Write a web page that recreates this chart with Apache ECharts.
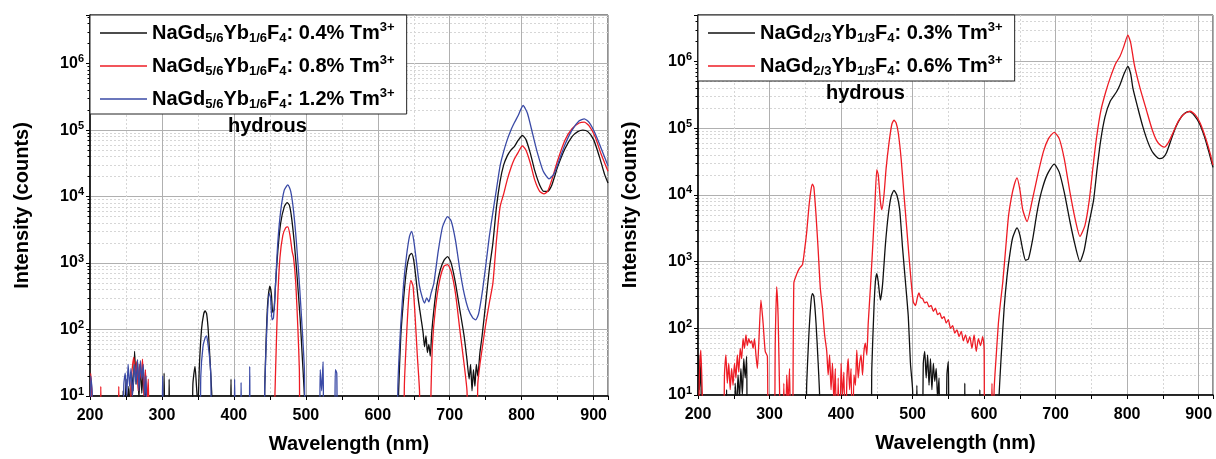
<!DOCTYPE html>
<html><head><meta charset="utf-8">
<script src="https://cdn.jsdelivr.net/npm/echarts@6/dist/echarts.min.js"></script>
<style>html,body{margin:0;padding:0;background:#fff}#c{width:1216px;height:459px}</style>
</head><body><div id="c"></div>
<script>
// ---------- DATA (wavelength nm, intensity counts) ----------
const xTicks = [200, 300, 400, 500, 600, 700, 800, 900];
const yTickExps = [1, 2, 3, 4, 5, 6];

const leftNames = ['L04', 'L08', 'L12'];
const leftLabels = [
  'NaGd{s|5/6}Yb{s|1/6}F{s|4}: 0.4% Tm{p|3+}',
  'NaGd{s|5/6}Yb{s|1/6}F{s|4}: 0.8% Tm{p|3+}',
  'NaGd{s|5/6}Yb{s|1/6}F{s|4}: 1.2% Tm{p|3+}'
];
const rightNames = ['R03', 'R06'];
const rightLabels = [
  'NaGd{s|2/3}Yb{s|1/3}F{s|4}: 0.3% Tm{p|3+}',
  'NaGd{s|2/3}Yb{s|1/3}F{s|4}: 0.6% Tm{p|3+}'
];
const annotation = 'hydrous';

const left04 = [[200,1],[202,6],[204,1],[244,1],[246,12],[248,3],[250,18],[252,7],[254,14],[256,5],[258,22],[260,12],[262,47],[264,15],[266,35],[268,9],[270,30],[272,11],[274,26],[276,7],[278,14],[280,1],[301,1],[303,22],[305,1],[309,1],[310,18],[312,1],[341,1],[343,15],[346,28],[348,14],[350,7],[352,28],[355,100],[358,170],[360,190],[362,175],[364,110],[366,50],[368,20],[370,7],[372,1],[394,1],[396,18],[398,1],[440,1],[443,15],[445,80],[447,250],[450,450],[452,350],[454,180],[456,200],[458,500],[461,1500],[465,4000],[470,7000],[474,8100],[477,7500],[480,5000],[484,2000],[488,600],[492,150],[495,40],[498,10],[500,1],[626,1],[629,12],[632,80],[636,300],[640,800],[644,1300],[647,1400],[650,1100],[653,600],[656,300],[660,150],[663,90],[665,55],[667,80],[669,45],[671,60],[673,40],[675,90],[678,200],[682,450],[687,800],[692,1100],[697,1250],[702,1000],[708,500],[714,200],[720,80],[724,35],[727,18],[729,30],[731,12],[733,25],[735,14],[737,30],[739,20],[742,45],[745,80],[750,250],[755,800],[760,2000],[765,7000],[770,17000],[775,30000],[780,41000],[785,50000],[790,57000],[795,70000],[801,83000],[806,72000],[812,45000],[818,25000],[825,15000],[831,12000],[836,12000],[842,15000],[850,28000],[860,52000],[870,80000],[878,95000],[885,100000],[892,95000],[900,72000],[908,40000],[915,22000],[920,16000]];

const left08 = [[200,1],[201,22],[203,8],[205,1],[214,1],[215,14],[217,1],[238,1],[240,14],[242,1],[255,1],[257,14],[259,28],[261,38],[263,20],[265,33],[267,12],[269,30],[271,18],[273,36],[275,10],[277,25],[279,8],[281,18],[284,1],[455,1],[457,10],[459,60],[461,300],[464,1200],[468,2600],[472,3400],[475,3500],[478,2600],[481,1500],[483,1200],[486,500],[489,100],[491,25],[493,1],[635,1],[637,15],[640,80],[643,300],[646,550],[649,450],[652,150],[655,40],[658,12],[660,1],[672,1],[674,12],[676,60],[680,200],[686,550],[692,900],[697,950],[702,750],[708,350],[714,100],[720,30],[724,12],[727,1],[737,1],[739,15],[742,30],[746,60],[750,120],[755,250],[760,500],[765,2200],[770,7000],[775,11000],[780,18000],[785,27000],[790,37000],[795,46000],[801,58000],[806,50000],[812,32000],[818,18000],[825,12000],[831,11000],[836,12000],[842,18000],[850,35000],[860,70000],[870,105000],[880,128000],[887,132000],[894,115000],[902,80000],[910,45000],[920,24000]];

const left12 = [[200,1],[201,20],[203,12],[205,1],[245,1],[247,15],[249,22],[251,10],[253,30],[255,14],[257,26],[259,10],[262,30],[264,15],[266,35],[268,12],[270,34],[272,18],[274,30],[276,10],[278,20],[280,1],[299,1],[301,20],[303,1],[352,1],[354,20],[357,55],[360,75],[362,80],[364,60],[366,40],[368,20],[370,1],[400,1],[401,18],[403,1],[409,1],[410,16],[412,1],[421,1],[422,28],[424,1],[441,1],[443,15],[446,120],[449,350],[451,300],[453,140],[455,150],[458,500],[461,2000],[465,6000],[470,12500],[475,15000],[479,12000],[483,6000],[487,2000],[491,500],[495,100],[498,25],[500,1],[518,1],[520,25],[522,12],[524,33],[526,1],[539,1],[541,25],[543,22],[545,1],[626,1],[628,15],[632,120],[636,500],[640,1300],[644,2500],[647,3000],[650,2200],[654,1000],[658,450],[662,300],[665,250],[668,300],[671,260],[674,350],[678,500],[684,1500],[690,3500],[697,5000],[702,4300],[708,2200],[714,800],[720,350],[726,200],[732,150],[736,140],[740,170],[745,350],[750,900],[755,2500],[760,5800],[765,13000],[770,29000],[775,48000],[780,72000],[785,100000],[790,130000],[795,165000],[802,235000],[808,180000],[815,90000],[822,45000],[830,24000],[838,18500],[845,22000],[852,35000],[860,60000],[870,100000],[880,138000],[887,148000],[894,130000],[902,90000],[910,55000],[920,29000]];

const right03 = [[200,1],[201,40],[202,12],[204,30],[206,1],[238,1],[240,12],[242,1],[250,1],[252,15],[254,6],[256,20],[258,9],[260,25],[262,10],[264,35],[266,18],[268,38],[270,1],[349,1],[352,15],[355,80],[358,250],[360,330],[362,300],[365,120],[368,30],[370,10],[372,1],[441,1],[443,25],[446,200],[448,500],[450,660],[452,500],[455,265],[458,450],[462,1800],[466,5000],[470,9500],[474,11700],[478,10000],[482,6000],[486,1600],[490,500],[494,150],[497,30],[500,12],[502,1],[504,1],[506,14],[508,1],[513,1],[515,30],[517,45],[519,18],[521,40],[523,14],[525,35],[527,12],[529,30],[531,16],[533,25],[535,9],[537,18],[539,1],[546,1],[548,20],[550,32],[552,1],[572,1],[573,15],[574,1],[593,1],[594,12],[595,1],[619,1],[621,10],[624,40],[628,200],[632,600],[636,1300],[640,2300],[646,3200],[650,2500],[654,1500],[658,1050],[662,1100],[668,2200],[674,5500],[680,11000],[688,20000],[698,29000],[705,22000],[712,11000],[720,4000],[727,1800],[734,1000],[740,1500],[746,3500],[753,8300],[758,25000],[763,66000],[769,148000],[776,250000],[785,350000],[790,450000],[795,630000],[801,850000],[805,650000],[808,400000],[815,200000],[822,105000],[829,62000],[836,43000],[845,35000],[850,36000],[855,43000],[862,70000],[868,105000],[875,145000],[881,170000],[887,178000],[894,155000],[901,118000],[908,75000],[914,45000],[920,26000]];

const right06 = [[200,1],[202,20],[204,47],[206,10],[208,1],[235,1],[237,20],[239,40],[241,15],[243,30],[245,12],[247,25],[249,14],[251,30],[253,18],[255,40],[257,22],[259,50],[261,35],[263,70],[265,50],[267,80],[269,55],[271,70],[273,60],[275,65],[277,50],[279,70],[281,40],[283,25],[285,60],[288,265],[291,120],[294,45],[297,38],[299,1],[306,1],[308,60],[310,420],[312,150],[314,12],[316,1],[318,1],[320,15],[322,1],[324,20],[326,8],[328,25],[330,1],[332,1],[334,480],[338,650],[342,800],[346,900],[349,1500],[352,2800],[355,6500],[358,12000],[360,14500],[362,13000],[365,5000],[368,1500],[371,400],[374,200],[377,80],[380,45],[382,20],[384,40],[386,12],[388,30],[390,8],[392,25],[394,1],[396,18],[398,1],[400,30],[402,10],[404,22],[406,1],[408,15],[410,35],[412,12],[414,25],[416,1],[418,20],[420,14],[422,47],[424,18],[426,30],[428,40],[430,20],[432,45],[434,60],[436,40],[438,120],[441,400],[444,1500],[447,6000],[450,24000],[452,20000],[455,8000],[457,6000],[460,10000],[463,25000],[467,60000],[471,115000],[474,132000],[477,120000],[480,85000],[484,35000],[488,10000],[492,3000],[495,1200],[498,500],[501,250],[504,220],[507,300],[509,340],[511,290],[514,280],[517,240],[520,250],[523,210],[526,220],[529,180],[532,200],[535,160],[538,170],[541,140],[544,150],[547,120],[550,135],[553,100],[556,110],[559,85],[562,95],[565,75],[568,90],[571,65],[574,80],[577,60],[580,75],[583,50],[586,80],[589,45],[592,70],[595,55],[598,75],[600,50],[601,1],[609,1],[611,15],[613,1],[614,12],[617,40],[620,120],[623,250],[626,480],[630,1500],[634,4700],[638,9000],[642,14000],[646,18000],[650,12000],[654,6000],[660,4000],[667,8000],[675,20000],[683,45000],[690,70000],[698,87000],[705,70000],[712,35000],[720,11000],[727,4500],[734,2400],[741,3500],[747,8300],[752,25000],[757,70000],[763,180000],[770,350000],[777,600000],[784,940000],[790,1200000],[795,1650000],[801,2500000],[805,1900000],[810,900000],[818,400000],[827,186000],[835,95000],[841,66000],[847,55000],[852,52000],[858,62000],[864,85000],[872,130000],[880,165000],[888,180000],[895,160000],[902,120000],[910,70000],[916,42000],[920,28000]];

// ---------- CHART ----------
const FONT = '"Liberation Sans", Arial, sans-serif';
const COLORS = { black: '#111111', red: '#ee1c25', blue: '#3a4aa6' };
const xMin = xTicks[0], xMax = 920, xStep = xTicks[1] - xTicks[0];

function xAxisCfg(gi) {
  return {
    type: 'value', gridIndex: gi, min: xMin, max: xMax, interval: xStep,
    name: 'Wavelength (nm)', nameLocation: 'middle', nameGap: 38,
    nameTextStyle: { fontFamily: FONT, fontWeight: 'bold', fontSize: 20, color: '#000' },
    axisLine: { show: true, onZero: false, lineStyle: { color: '#000', width: 1.5 } },
    axisTick: { show: true, length: 4, lineStyle: { color: '#000', width: 1 } },
    minorTick: { show: true, splitNumber: 2, length: 4, lineStyle: { color: '#000', width: 1 } },
    splitLine: { show: true, lineStyle: { color: '#b0b0b0', width: 1 } },
    minorSplitLine: { show: true, lineStyle: { color: '#d6d6d6', width: 1, type: [2, 2] } },
    axisLabel: { fontFamily: FONT, fontWeight: 'bold', fontSize: 16, color: '#000', margin: 12,
      formatter: v => (xTicks.indexOf(Math.round(v)) >= 0 ? String(Math.round(v)) : '') }
  };
}
function yAxisCfg(gi, max, gap) {
  return {
    type: 'log', logBase: 10, gridIndex: gi, min: 10, max: max,
    name: 'Intensity (counts)', nameLocation: 'middle', nameGap: gap,
    nameTextStyle: { fontFamily: FONT, fontWeight: 'bold', fontSize: 20, color: '#000' },
    axisLine: { show: true, onZero: false, lineStyle: { color: '#000', width: 1.5 } },
    axisTick: { show: true, length: 4, lineStyle: { color: '#000', width: 1 } },
    minorTick: { show: true, splitNumber: 9, length: 2.5, lineStyle: { color: '#000', width: 1 } },
    splitLine: { show: true, lineStyle: { color: '#b0b0b0', width: 1 } },
    minorSplitLine: { show: true, lineStyle: { color: '#d6d6d6', width: 1, type: [2, 2] } },
    axisLabel: {
      fontFamily: FONT, fontWeight: 'bold', fontSize: 16, color: '#000', margin: 6, lineHeight: 20,
      formatter: v => {
        const e = Math.log10(v); const r = Math.round(e);
        if (Math.abs(e - r) > 0.01 || yTickExps.indexOf(r) < 0) return '';
        return '10{sup|' + r + '}';
      },
      rich: { sup: { fontFamily: FONT, fontWeight: 'bold', fontSize: 11, color: '#000', verticalAlign: 'top', lineHeight: 11 } }
    }
  };
}
function legendCfg(left, names, labels) {
  const map = {}; names.forEach((n, i) => { map[n] = labels[i]; });
  return {
    left: left, top: 15, orient: 'vertical', data: names, selectedMode: false,
    icon: 'rect', itemWidth: 47, itemHeight: 1.6, itemGap: 9, padding: [6, 12, 3, 10],
    backgroundColor: '#fff', borderColor: '#222', borderWidth: 1, borderRadius: 0, z: 10,
    formatter: n => map[n],
    textStyle: {
      fontFamily: FONT, fontWeight: 'bold', fontSize: 20, color: '#000', lineHeight: 24,
      rich: {
        s: { fontFamily: FONT, fontWeight: 'bold', fontSize: 13, color: '#000', verticalAlign: 'bottom', lineHeight: 13 },
        p: { fontFamily: FONT, fontWeight: 'bold', fontSize: 13, color: '#000', verticalAlign: 'top', lineHeight: 13 }
      }
    }
  };
}
function lineSeries(name, data, color, gi) {
  return {
    name: name, type: 'line', data: data, xAxisIndex: gi, yAxisIndex: gi,
    showSymbol: false, symbol: 'none', smooth: 0.2, clip: true,
    lineStyle: { color: color, width: 1.3 }, itemStyle: { color: color },
    emphasis: { disabled: true }
  };
}

const chart = echarts.init(document.getElementById('c'), null, { renderer: 'canvas' });
chart.setOption({
  animation: false,
  backgroundColor: '#fff',
  grid: [
    { left: 90, right: 608, top: 15, bottom: 62, show: true, borderColor: '#222', borderWidth: 1, backgroundColor: 'transparent', containLabel: false },
    { left: 698, right: 1, top: 15, bottom: 64, show: true, borderColor: '#222', borderWidth: 1, backgroundColor: 'transparent', containLabel: false }
  ],
  xAxis: [xAxisCfg(0), xAxisCfg(1)],
  yAxis: [yAxisCfg(0, 5.4e6, 58), yAxisCfg(1, 5.0e6, 58)],
  legend: [legendCfg(90, leftNames, leftLabels), legendCfg(698, rightNames, rightLabels)],
  graphic: [
    { type: 'text', left: 228, top: 116, z: 20, style: { text: annotation, font: 'bold 20px ' + FONT, fill: '#000' } },
    { type: 'text', left: 826, top: 83, z: 20, style: { text: annotation, font: 'bold 20px ' + FONT, fill: '#000' } }
  ],
  series: [
    lineSeries('L04', left04, COLORS.black, 0),
    lineSeries('L08', left08, COLORS.red, 0),
    lineSeries('L12', left12, COLORS.blue, 0),
    lineSeries('R03', right03, COLORS.black, 1),
    lineSeries('R06', right06, COLORS.red, 1)
  ]
});
</script>
</body></html>
